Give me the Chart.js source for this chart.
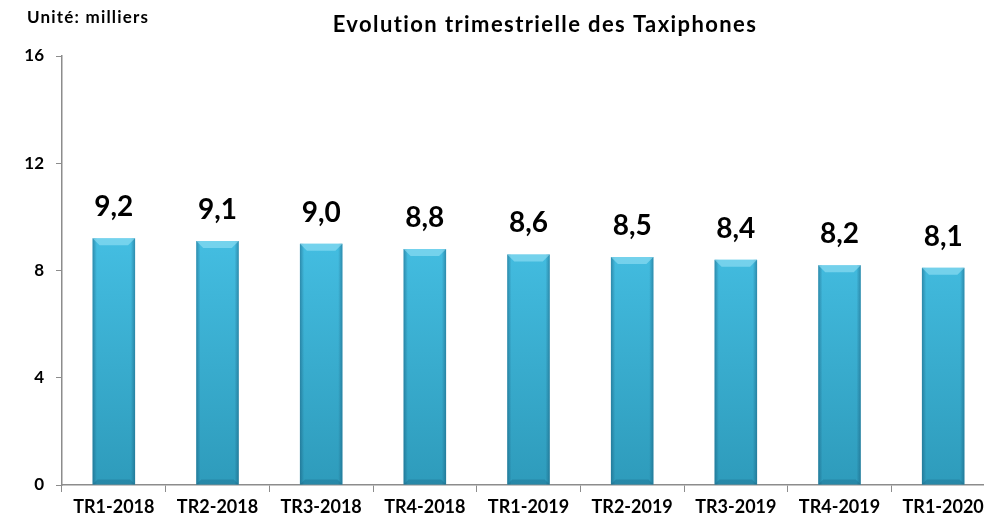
<!DOCTYPE html>
<html>
<head>
<meta charset="utf-8">
<script src="https://cdn.jsdelivr.net/npm/chart.js@4.4.1/dist/chart.umd.min.js"></script>
<style>
  html, body { margin:0; padding:0; background:#ffffff; overflow:hidden; }
  #wrap { position:relative; width:1010px; height:524px; }
</style>
</head>
<body>
<div id="wrap"><canvas id="c" width="1010" height="524"></canvas></div>
<script>
const categories = ["TR1-2018","TR2-2018","TR3-2018","TR4-2018","TR1-2019","TR2-2019","TR3-2019","TR4-2019","TR1-2020"];
const values = [9.2, 9.1, 9.0, 8.8, 8.6, 8.5, 8.4, 8.2, 8.1];
const yTicks = [0, 4, 8, 12, 16];
const titleText = "Evolution trimestrielle des Taxiphones";
const unitText = "Unité: milliers";

const FONT = "Lato, 'Open Sans', sans-serif";

function barGradient(ctx) {
  const chart = ctx.chart;
  const area = chart.chartArea;
  if (!area) return '#3cb2d4';
  const g = chart.ctx.createLinearGradient(0, area.top + 180, 0, area.bottom);
  g.addColorStop(0, '#44bee2');
  g.addColorStop(1, '#2e9bbb');
  return g;
}

const labelPlugin = {
  id: 'labels',
  afterDatasetsDraw(chart) {
    const ctx = chart.ctx;
    const meta = chart.getDatasetMeta(0);
    ctx.save();
    meta.data.forEach((bar) => {
      const w = bar.width;
      const l = bar.x - w/2, r = bar.x + w/2, t = bar.y, b = bar.base;
      let g = ctx.createLinearGradient(l, 0, r, 0);
      g.addColorStop(0, 'rgba(20,80,110,0.45)');
      g.addColorStop(0.1, 'rgba(20,80,110,0.0)');
      g.addColorStop(0.9, 'rgba(20,80,110,0.0)');
      g.addColorStop(1, 'rgba(20,80,110,0.45)');
      ctx.fillStyle = g;
      ctx.fillRect(l, t, w, b - t);
      ctx.fillStyle = 'rgba(150,225,245,0.6)';
      ctx.beginPath();
      ctx.moveTo(l, t); ctx.lineTo(r, t);
      ctx.lineTo(r - 7, t + 7); ctx.lineTo(l + 7, t + 7);
      ctx.closePath(); ctx.fill();
      ctx.fillStyle = 'rgba(20,80,110,0.25)';
      ctx.beginPath();
      ctx.moveTo(l, b); ctx.lineTo(r, b);
      ctx.lineTo(r - 5, b - 5); ctx.lineTo(l + 5, b - 5);
      ctx.closePath(); ctx.fill();
    });
    ctx.fillStyle = '#000';
    ctx.font = "bold 28px " + FONT;
    ctx.textAlign = 'center';
    ctx.textBaseline = 'alphabetic';
    meta.data.forEach((bar, i) => {
      const txt = values[i].toFixed(1).replace('.', ',');
      ctx.fillText(txt, bar.x, bar.y - 22);
    });
    ctx.restore();
  },
  afterDraw(chart) {
    const ctx = chart.ctx;
    ctx.save();
    ctx.fillStyle = '#000';
    ctx.textBaseline = 'middle';
    ctx.font = "bold 17px " + FONT;
    ctx.letterSpacing = '1.2px';
    ctx.textAlign = 'left';
    ctx.fillText(unitText, 27, 18);
    ctx.font = "bold 22px " + FONT;
    ctx.letterSpacing = '1.4px';
    ctx.textAlign = 'center';
    ctx.fillText(titleText, 545, 25);
    ctx.restore();
  }
};

new Chart(document.getElementById('c'), {
  type: 'bar',
  data: {
    labels: categories,
    datasets: [{
      data: values,
      backgroundColor: barGradient,
      borderWidth: 0,
      categoryPercentage: 1.0,
      barPercentage: 0.41
    }]
  },
  options: {
    responsive: false,
    animation: false,
    layout: { padding: { top: 56, right: 15, left: 0, bottom: 0 } },
    plugins: { legend: { display: false }, title: { display: false }, tooltip: { enabled: false } },
    scales: {
      x: {
        offset: true,
        grid: { display: true, offset: true, drawOnChartArea: false, drawTicks: true, tickLength: 7, color: '#8c8c8c', lineWidth: 1 },
        border: { display: true, color: '#8c8c8c', width: 1.5 },
        ticks: { color: '#000', font: { family: FONT, weight: 'bold', size: 18 }, padding: 4, maxRotation: 0, autoSkip: false },
        afterFit(s) { s.height = 39; }
      },
      y: {
        min: 0, max: 16,
        afterBuildTicks(s) { s.ticks = yTicks.map(v => ({ value: v })); },
        grid: { display: true, drawOnChartArea: false, drawTicks: true, tickLength: 6, color: '#8c8c8c', lineWidth: 1 },
        border: { display: true, color: '#8c8c8c', width: 1.5 },
        ticks: { color: '#000', font: { family: FONT, weight: 'bold', size: 17 }, padding: 12 },
        afterFit(s) { s.width = 62; }
      }
    }
  },
  plugins: [labelPlugin]
});
</script>
</body>
</html>
